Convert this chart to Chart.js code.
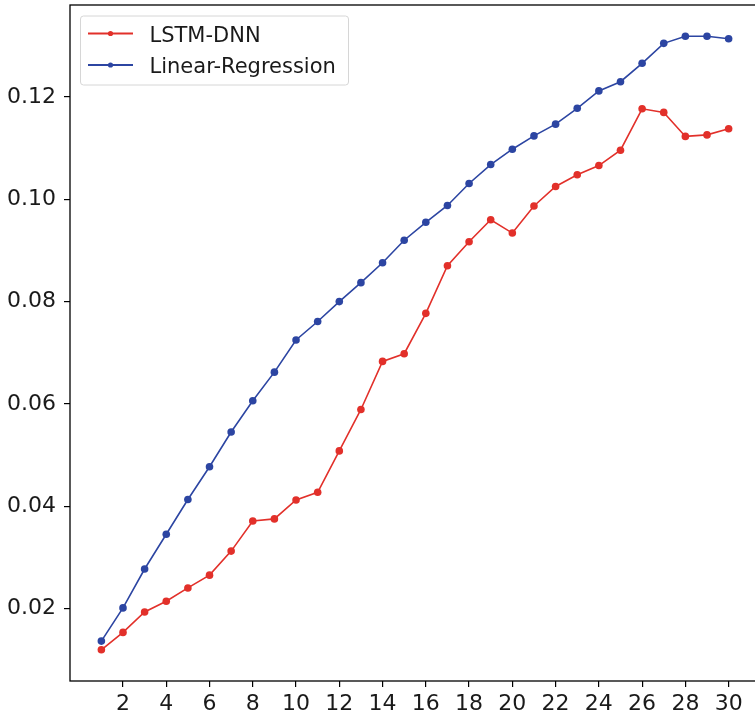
<!DOCTYPE html>
<html>
<head>
<meta charset="utf-8">
<script src="https://cdn.jsdelivr.net/npm/chart.js@4/dist/chart.umd.min.js"></script>
<style>
  html, body { margin: 0; padding: 0; background: #fff; overflow: hidden; }
  #wrap { width: 755px; height: 719px; overflow: hidden; }
</style>
</head>
<body>
<div id="wrap"><canvas id="chart" width="764" height="719" style="width:764px;height:719px"></canvas></div>
<script>
const steps = [1,2,3,4,5,6,7,8,9,10,11,12,13,14,15,16,17,18,19,20,21,22,23,24,25,26,27,28,29,30];
const lstmDnn = [0.0119,0.0153,0.0193,0.0214,0.0240,0.0265,0.0312,0.0371,0.0375,0.0412,
                 0.0427,0.0508,0.0589,0.0683,0.0698,0.0777,0.0870,0.0917,0.0960,0.0934,
                 0.0987,0.1025,0.1048,0.1066,0.1096,0.1177,0.1170,0.1123,0.1126,0.1138];
const linearReg = [0.0136,0.0201,0.0277,0.0345,0.0413,0.0477,0.0545,0.0606,0.0662,0.0725,
                   0.0761,0.0800,0.0837,0.0876,0.0920,0.0955,0.0988,0.1031,0.1068,0.1098,
                   0.1124,0.1147,0.1178,0.1212,0.1230,0.1266,0.1305,0.1319,0.1319,0.1314];
const xTicks = [2,4,6,8,10,12,14,16,18,20,22,24,26,28,30];
const yTicks = [0.02,0.04,0.06,0.08,0.10,0.12];
const seriesNames = ['LSTM-DNN', 'Linear-Regression'];

const RED = '#e2302a';
const BLUE = '#2c45a2';
const FONT = 'DejaVu Sans';

const toPoints = vals => vals.map((v, i) => ({ x: steps[i], y: v }));

// no extra room for half labels, the frame sets the plot box
const noPad = scale => {
    scale.paddingTop = 0;
    scale.paddingBottom = 0;
    scale.paddingLeft = 0;
    scale.paddingRight = 0;
};

// matplotlib-like frame and legend
const framePlugin = {
    id: 'frame',
    afterDraw(chart) {
        const ctx = chart.ctx;
        const a = chart.chartArea;
        ctx.save();
        ctx.strokeStyle = '#000';
        ctx.lineWidth = 1.3;
        ctx.strokeRect(a.left, a.top, a.right - a.left, a.bottom - a.top);

        // legend box
        const bx = 80.5, by = 16, bw = 268, bh = 69;
        ctx.fillStyle = 'rgba(255,255,255,0.8)';
        ctx.strokeStyle = '#d6d6d6';
        ctx.lineWidth = 1;
        ctx.beginPath();
        ctx.roundRect(bx, by, bw, bh, 3);
        ctx.fill();
        ctx.stroke();

        const rows = [33.5, 65];
        chart.data.datasets.forEach((ds, i) => {
            const y = rows[i];
            ctx.strokeStyle = ds.borderColor;
            ctx.lineWidth = 1.8;
            ctx.beginPath();
            ctx.moveTo(88, y);
            ctx.lineTo(133, y);
            ctx.stroke();
            ctx.fillStyle = ds.borderColor;
            ctx.beginPath();
            ctx.arc(110.5, y, 2.6, 0, Math.PI * 2);
            ctx.fill();
            ctx.fillStyle = '#1a1a1a';
            ctx.font = '21px "' + FONT + '"';
            ctx.textBaseline = 'alphabetic';
            ctx.textAlign = 'left';
            ctx.fillText(ds.label, 149.5, y + 8);
        });
        ctx.restore();
    }
};

new Chart(document.getElementById('chart'), {
    type: 'line',
    data: {
        datasets: [
            {
                label: seriesNames[0],
                data: toPoints(lstmDnn),
                borderColor: RED,
                backgroundColor: RED,
                borderWidth: 1.6,
                pointRadius: 3.8,
                pointBorderWidth: 0,
                tension: 0
            },
            {
                label: seriesNames[1],
                data: toPoints(linearReg),
                borderColor: BLUE,
                backgroundColor: BLUE,
                borderWidth: 1.6,
                pointRadius: 3.8,
                pointBorderWidth: 0,
                tension: 0
            }
        ]
    },
    options: {
        responsive: false,
        animation: false,
        layout: { padding: { top: 5, right: 1, left: 0, bottom: 0 } },
        plugins: {
            legend: { display: false },
            tooltip: { enabled: false }
        },
        scales: {
            x: {
                type: 'linear',
                min: -0.45,
                max: 31.45,
                afterBuildTicks: scale => { scale.ticks = xTicks.map(v => ({ value: v })); },
                afterFit: scale => { scale.height = 38; noPad(scale); },
                grid: { drawOnChartArea: false, color: '#000', tickLength: 6, lineWidth: 1.2 },
                border: { display: false },
                ticks: {
                    color: '#1a1a1a',
                    padding: 4,
                    maxRotation: 0,
                    autoSkip: false,
                    font: { family: FONT, size: 22 },
                    callback: v => String(v)
                }
            },
            y: {
                type: 'linear',
                min: 0.0058,
                max: 0.138,
                afterBuildTicks: scale => { scale.ticks = yTicks.map(v => ({ value: v })); },
                afterFit: scale => { scale.width = 70; noPad(scale); },
                grid: { drawOnChartArea: false, color: '#000', tickLength: 6, lineWidth: 1.2 },
                border: { display: false },
                ticks: {
                    color: '#1a1a1a',
                    padding: 8,
                    font: { family: FONT, size: 22 },
                    callback: v => v.toFixed(2)
                }
            }
        }
    },
    plugins: [framePlugin]
});
</script>
</body>
</html>
